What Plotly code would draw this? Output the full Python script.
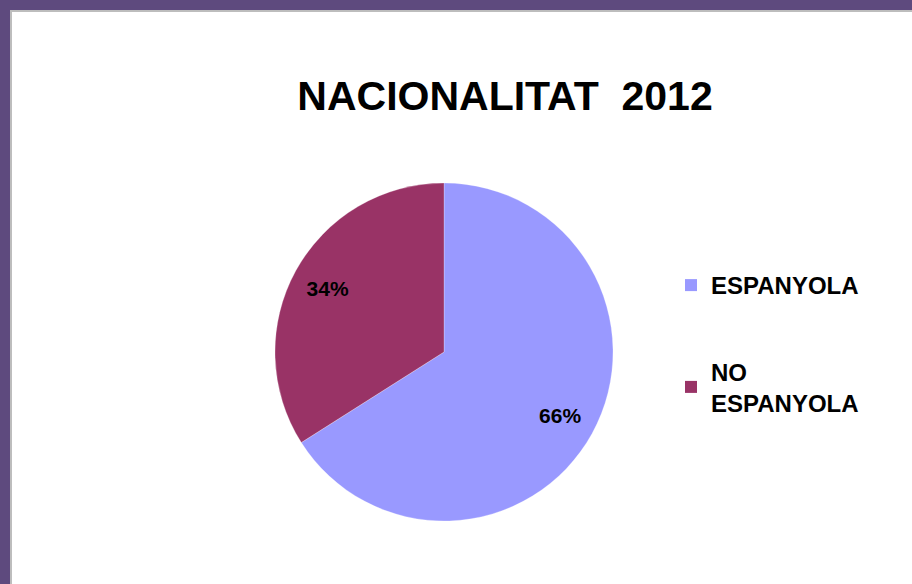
import plotly.graph_objects as go

labels = ["ESPANYOLA", "NO ESPANYOLA"]
legend_names = ["ESPANYOLA", "NO<br>ESPANYOLA"]
values = [66, 34]
colors = ["#9999FF", "#993366"]
title_text = "NACIONALITAT  2012"

W, H = 912, 584
cx, cy, r = 444, 352, 169
dom = dict(x=[(cx - r) / W, (cx + r) / W], y=[(H - cy - r) / H, (H - cy + r) / H])

fig = go.Figure()
# the slices
fig.add_trace(go.Pie(
    labels=labels, values=values, sort=False, direction="clockwise", rotation=0,
    marker=dict(colors=colors, line=dict(color="rgba(255,255,255,0.5)", width=0.5)),
    textinfo="none", domain=dom, showlegend=False, hoverinfo="label+percent",
))
# transparent ring carrying the percentage labels further out
fig.add_trace(go.Pie(
    labels=labels, values=values, sort=False, direction="clockwise", rotation=0, hole=0.57,
    marker=dict(colors=["rgba(0,0,0,0)"] * len(values), line=dict(width=0)),
    texttemplate="%{percent:.0%}", textposition="inside", insidetextorientation="horizontal",
    textfont=dict(family="Liberation Sans", size=21, color="black", weight="bold"),
    domain=dom, showlegend=False, hoverinfo="skip",
))
for name, col in zip(legend_names, colors):
    fig.add_trace(go.Scatter(
        x=[None], y=[None], mode="markers", name=name, legendgroup=name,
        marker=dict(symbol="square", size=13, color=col),
    ))

fig.update_layout(
    width=W, height=H, margin=dict(l=0, r=0, t=0, b=0),
    paper_bgcolor="#5E4A7E", plot_bgcolor="rgba(0,0,0,0)",
    xaxis=dict(visible=False), yaxis=dict(visible=False),
    title=dict(text=title_text, x=505 / W, xanchor="center", y=(H - 96) / H, yanchor="middle",
               font=dict(family="Liberation Sans", size=41, color="black", weight="bold")),
    legend=dict(x=671 / W, xanchor="left", y=(H - 263) / H, yanchor="top",
                font=dict(family="Liberation Sans", size=24, color="black", weight="bold"),
                tracegroupgap=52, bgcolor="rgba(0,0,0,0)", itemsizing="constant"),
    shapes=[
        dict(type="rect", xref="paper", yref="paper", x0=10 / W, x1=1, y0=0, y1=(H - 10) / H,
             fillcolor="#BDBDBD", line=dict(width=0), layer="below"),
        dict(type="rect", xref="paper", yref="paper", x0=12 / W, x1=1, y0=0, y1=(H - 12) / H,
             fillcolor="white", line=dict(width=0), layer="below"),
    ],
)
fig.write_html("out.html", config={"displayModeBar": False},
               post_script="document.body.style.margin='0';")
